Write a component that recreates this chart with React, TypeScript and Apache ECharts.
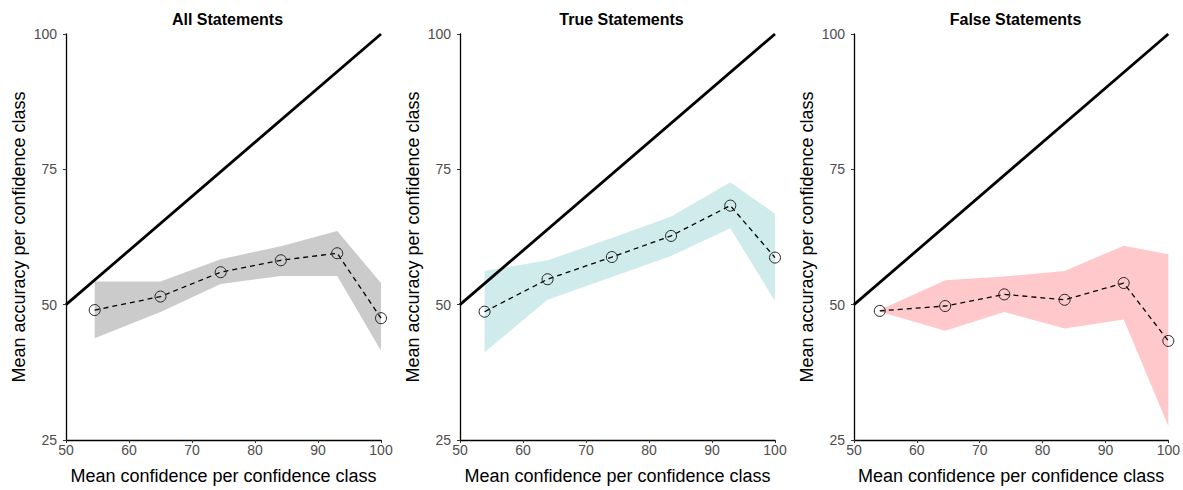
import React, { useEffect, useRef } from "react";
import * as echarts from "echarts";

const panelTitles = ["All Statements", "True Statements", "False Statements"];
const ribbonColors = ["#cbcbcb", "#d0ebeb", "#ffc9cc"];

const allConf = [54.55, 65.0, 74.55, 84.1, 93.05, 100];
const allAcc = [49.0, 51.5, 56.0, 58.2, 59.5, 47.5];
const allUpper = [54.3, 54.3, 58.4, 60.8, 63.6, 54.0];
const allLower = [43.8, 48.65, 53.8, 55.3, 55.3, 41.5];

const trueConf = [53.9, 63.9, 74.1, 83.5, 92.9, 100];
const trueAcc = [48.7, 54.7, 58.8, 62.7, 68.3, 58.7];
const trueUpper = [56.2, 58.2, 62.3, 66.3, 72.6, 66.8];
const trueLower = [41.2, 50.9, 55.1, 59.0, 64.1, 50.7];

const falseConf = [54.1, 64.5, 73.9, 83.5, 92.9, 100];
const falseAcc = [48.85, 49.75, 51.9, 50.9, 54.0, 43.3];
const falseUpper = [49.0, 54.5, 55.2, 56.2, 60.9, 59.3];
const falseLower = [48.7, 45.2, 48.65, 45.6, 47.25, 27.6];

const xTicks = [50, 60, 70, 80, 90, 100];
const yTicks = [25, 50, 75, 100];
const diagonal = [50, 100];

const panels = [
  { conf: allConf, acc: allAcc, upper: allUpper, lower: allLower },
  { conf: trueConf, acc: trueAcc, upper: trueUpper, lower: trueLower },
  { conf: falseConf, acc: falseAcc, upper: falseUpper, lower: falseLower },
];

const FONT = "Liberation Sans, Arial, sans-serif";
const gridLefts = [66, 460, 854];
const GRID_W = 315;
const GRID_TOP = 34;
const GRID_H = 410;

export default function App() {
  const ref = useRef<HTMLDivElement>(null);

  useEffect(() => {
    if (!ref.current) return;
    const chart = echarts.init(ref.current, undefined, { renderer: "svg" });

    const grids: any[] = [];
    const xAxes: any[] = [];
    const yAxes: any[] = [];
    const series: any[] = [];
    const titles: any[] = [];

    panels.forEach((p, i) => {
      grids.push({ left: gridLefts[i], top: GRID_TOP, width: GRID_W, height: GRID_H });
      titles.push({
        text: panelTitles[i],
        left: gridLefts[i] + GRID_W / 2 - 1,
        top: 6,
        textAlign: "center",
        textStyle: { fontFamily: FONT, fontSize: 16, fontWeight: "bold", color: "#000" },
      });
      xAxes.push({
        type: "value",
        gridIndex: i,
        min: xTicks[0],
        max: xTicks[xTicks.length - 1],
        interval: 10,
        name: "Mean confidence per confidence class",
        nameLocation: "middle",
        nameGap: 27,
        nameTextStyle: { fontFamily: FONT, fontSize: 18, color: "#000" },
        axisLine: { show: true, onZero: false, lineStyle: { color: "#000", width: 1.3 } },
        axisTick: { show: true, length: 3, lineStyle: { color: "#333" } },
        axisLabel: { fontFamily: FONT, fontSize: 14, color: "#4d4d4d", margin: 3 },
        splitLine: { show: false },
      });
      yAxes.push({
        type: "value",
        gridIndex: i,
        min: yTicks[0],
        max: yTicks[yTicks.length - 1],
        interval: 25,
        name: "Mean accuracy per confidence class",
        nameLocation: "middle",
        nameGap: 38,
        nameTextStyle: { fontFamily: FONT, fontSize: 18, color: "#000" },
        axisLine: { show: true, onZero: false, lineStyle: { color: "#000", width: 1.3 } },
        axisTick: { show: true, length: 3, lineStyle: { color: "#333" } },
        axisLabel: { fontFamily: FONT, fontSize: 14, color: "#4d4d4d", margin: 9 },
        splitLine: { show: false },
      });

      const color = ribbonColors[i];
      series.push({
        type: "custom",
        xAxisIndex: i,
        yAxisIndex: i,
        silent: true,
        z: 1,
        data: [0],
        renderItem: (_params: any, api: any) => {
          const pts: number[][] = [];
          for (let k = 0; k < p.conf.length; k++) pts.push(api.coord([p.conf[k], p.upper[k]]));
          for (let k = p.conf.length - 1; k >= 0; k--) pts.push(api.coord([p.conf[k], p.lower[k]]));
          return {
            type: "polygon",
            shape: { points: pts },
            style: { fill: color, stroke: "none" },
          };
        },
      });
      series.push({
        type: "line",
        xAxisIndex: i,
        yAxisIndex: i,
        z: 2,
        data: diagonal.map((v) => [v, v]),
        symbol: "none",
        lineStyle: { color: "#000", width: 2.8 },
        silent: true,
      });
      series.push({
        type: "line",
        xAxisIndex: i,
        yAxisIndex: i,
        z: 3,
        data: p.conf.map((c, k) => [c, p.acc[k]]),
        symbol: "circle",
        symbolSize: 11,
        showSymbol: true,
        itemStyle: { color: "rgba(0,0,0,0)", borderColor: "#222", borderWidth: 1 },
        lineStyle: { color: "#000", width: 1.3, type: [5, 4] },
        silent: true,
      });
    });

    chart.setOption({
      animation: false,
      backgroundColor: "#fff",
      title: titles,
      grid: grids,
      xAxis: xAxes,
      yAxis: yAxes,
      series,
    });

    return () => chart.dispose();
  }, []);

  return (
    <div
      ref={ref}
      style={{ position: "fixed", left: 0, top: 0, width: 1183, height: 490, background: "#fff" }}
    />
  );
}
